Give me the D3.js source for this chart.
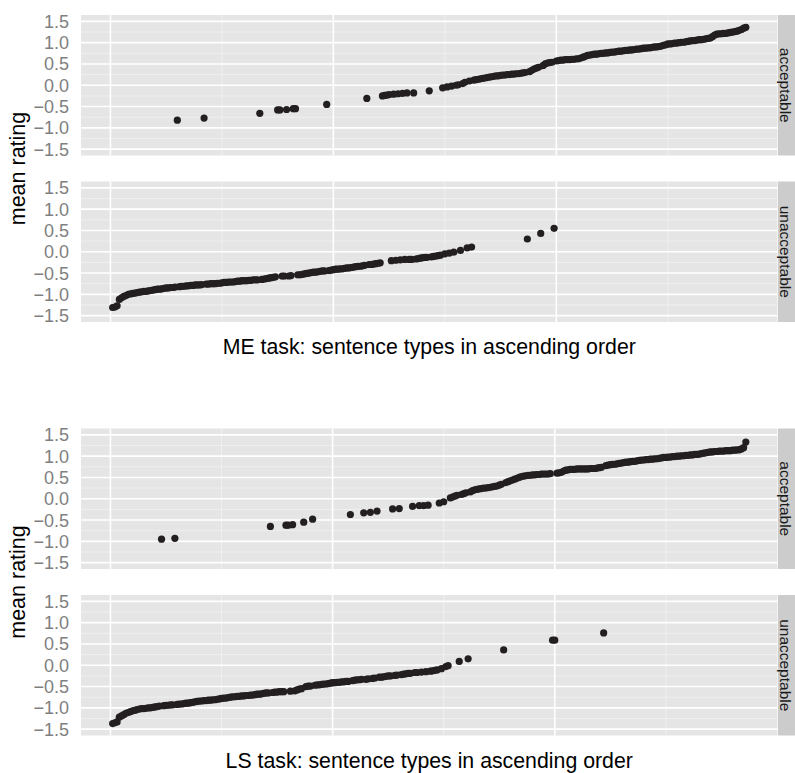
<!DOCTYPE html>
<html>
<head>
<meta charset="utf-8">
<script src="https://cdn.jsdelivr.net/npm/d3@7"></script>
<style>
  body { margin: 0; background: #fff; }
  svg { display: block; }
  text { font-family: "Liberation Sans", Arial, Helvetica, sans-serif; }
</style>
</head>
<body>
<svg id="chart"></svg>
<script>
// mean ratings of all sentence types, sorted ascending (rank 1 = lowest)
var meRatings = [
  -1.31, -1.30, -1.27, -1.12, -1.08, -1.05, -1.03, -1.00, -0.99, -0.98,
  -0.97, -0.96, -0.95, -0.94, -0.93, -0.93, -0.92, -0.91, -0.90, -0.89,
  -0.88, -0.88, -0.87, -0.86, -0.85, -0.85, -0.84, -0.84, -0.83, -0.82,
  -0.82, -0.81, -0.81, -0.80, -0.80, -0.79, -0.79, -0.78, -0.78, -0.78,
  -0.77, -0.77, -0.76, -0.76, -0.75, -0.75, -0.75, -0.74, -0.74, -0.73,
  -0.72, -0.72, -0.71, -0.71, -0.71, -0.70, -0.69, -0.69, -0.68, -0.68,
  -0.68, -0.67, -0.67, -0.66, -0.66, -0.66, -0.66, -0.65, -0.64, -0.63,
  -0.62, -0.61, -0.60, -0.59, -0.58, -0.58, -0.57, -0.57, -0.57, -0.57,
  -0.56, -0.55, -0.55, -0.54, -0.54, -0.53, -0.52, -0.51, -0.50, -0.49,
  -0.48, -0.48, -0.47, -0.46, -0.45, -0.45, -0.45, -0.44, -0.43, -0.42,
  -0.41, -0.41, -0.40, -0.40, -0.39, -0.38, -0.38, -0.37, -0.36, -0.35,
  -0.34, -0.34, -0.33, -0.32, -0.31, -0.30, -0.30, -0.29, -0.28, -0.27,
  -0.26, -0.25, -0.24, -0.23, -0.22, -0.21, -0.21, -0.20, -0.20, -0.19,
  -0.19, -0.18, -0.18, -0.18, -0.18, -0.18, -0.17, -0.16, -0.15, -0.14,
  -0.13, -0.13, -0.13, -0.12, -0.11, -0.10, -0.09, -0.08, -0.06, -0.05,
  -0.04, -0.03, -0.02, -0.01, 0.00, 0.01, 0.03, 0.04, 0.07, 0.09,
  0.10, 0.11, 0.12, 0.13, 0.14, 0.15, 0.16, 0.17, 0.18, 0.19,
  0.20, 0.21, 0.22, 0.22, 0.23, 0.24, 0.24, 0.25, 0.25, 0.26,
  0.26, 0.27, 0.27, 0.28, 0.29, 0.30, 0.30, 0.32, 0.35, 0.38,
  0.40, 0.42, 0.43, 0.46, 0.50, 0.52, 0.53, 0.54, 0.55, 0.57,
  0.58, 0.59, 0.59, 0.60, 0.60, 0.60, 0.61, 0.61, 0.62, 0.62,
  0.64, 0.66, 0.68, 0.70, 0.71, 0.72, 0.73, 0.73, 0.74, 0.75,
  0.75, 0.76, 0.76, 0.77, 0.78, 0.78, 0.79, 0.80, 0.80, 0.81,
  0.82, 0.82, 0.83, 0.83, 0.84, 0.85, 0.85, 0.86, 0.87, 0.87,
  0.88, 0.88, 0.89, 0.90, 0.90, 0.91, 0.92, 0.94, 0.95, 0.97,
  0.97, 0.98, 0.99, 0.99, 1.00, 1.01, 1.01, 1.02, 1.03, 1.04,
  1.05, 1.05, 1.06, 1.07, 1.07, 1.08, 1.09, 1.10, 1.11, 1.14,
  1.18, 1.20, 1.21, 1.21, 1.22, 1.22, 1.23, 1.24, 1.25, 1.26,
  1.27, 1.29, 1.31, 1.34, 1.36
];
// a = acceptable, u = unacceptable, one letter per rank
var meLabels =
  'uuuuuuuuuu uuuuuuuuuu uuuuuuuuua uuuuuuuuuu uauuuuuuuu ' +
  'uuuuuuuuuu uuuuuuauuu uuuuaauuau uaauuuuuuu uuuuuuauuu ' +
  'uuuuuuuuuu uuuuauuuuu uaaaauauau auauuauuuu uuauuuuuau ' +
  'auauaauaau auaaaaaaaa aaaaaaaaaa aaaaaauaaa aauaaaaaua ' +
  'aaaaaaaaaa aaaaaaaaaa aaaaaaaaaa aaaaaaaaaa aaaaaaaaaa ' +
  'aaaaaaaaaa aaaaaaaaaa aaaaaaaaaa aaaaa';

var lsRatings = [
  -1.37, -1.35, -1.33, -1.22, -1.19, -1.16, -1.13, -1.11, -1.09, -1.07,
  -1.06, -1.04, -1.03, -1.02, -1.02, -1.01, -1.00, -1.00, -0.99, -0.98,
  -0.97, -0.96, -0.95, -0.95, -0.94, -0.94, -0.93, -0.93, -0.93, -0.92,
  -0.91, -0.91, -0.90, -0.89, -0.89, -0.88, -0.87, -0.86, -0.85, -0.84,
  -0.84, -0.83, -0.83, -0.82, -0.82, -0.81, -0.81, -0.80, -0.79, -0.78,
  -0.77, -0.77, -0.76, -0.75, -0.74, -0.74, -0.73, -0.73, -0.72, -0.72,
  -0.71, -0.71, -0.70, -0.70, -0.69, -0.68, -0.68, -0.67, -0.66, -0.65,
  -0.65, -0.65, -0.64, -0.63, -0.63, -0.62, -0.62, -0.62, -0.62, -0.62,
  -0.61, -0.61, -0.60, -0.58, -0.56, -0.55, -0.55, -0.50, -0.49, -0.49,
  -0.48, -0.47, -0.46, -0.46, -0.45, -0.44, -0.44, -0.43, -0.42, -0.41,
  -0.41, -0.40, -0.40, -0.39, -0.39, -0.38, -0.38, -0.37, -0.36, -0.35,
  -0.34, -0.34, -0.33, -0.33, -0.33, -0.32, -0.32, -0.31, -0.30, -0.29,
  -0.28, -0.28, -0.27, -0.26, -0.25, -0.25, -0.24, -0.24, -0.23, -0.23,
  -0.22, -0.21, -0.20, -0.19, -0.19, -0.18, -0.17, -0.17, -0.16, -0.16,
  -0.16, -0.15, -0.15, -0.14, -0.13, -0.12, -0.11, -0.10, -0.08, -0.07,
  -0.03, -0.01, 0.02, 0.04, 0.06, 0.08, 0.09, 0.10, 0.12, 0.14,
  0.15, 0.16, 0.19, 0.21, 0.22, 0.23, 0.24, 0.25, 0.25, 0.26,
  0.27, 0.28, 0.29, 0.30, 0.32, 0.34, 0.36, 0.38, 0.40, 0.42,
  0.44, 0.46, 0.48, 0.50, 0.52, 0.53, 0.54, 0.55, 0.55, 0.56,
  0.56, 0.57, 0.57, 0.58, 0.58, 0.58, 0.58, 0.59, 0.59, 0.59,
  0.60, 0.61, 0.62, 0.65, 0.67, 0.68, 0.69, 0.69, 0.69, 0.70,
  0.70, 0.70, 0.70, 0.70, 0.70, 0.71, 0.71, 0.71, 0.72, 0.73,
  0.74, 0.76, 0.78, 0.79, 0.80, 0.81, 0.81, 0.82, 0.83, 0.84,
  0.85, 0.86, 0.86, 0.87, 0.88, 0.88, 0.89, 0.90, 0.91, 0.91,
  0.92, 0.92, 0.93, 0.93, 0.94, 0.94, 0.95, 0.96, 0.97, 0.97,
  0.98, 0.98, 0.99, 0.99, 1.00, 1.00, 1.01, 1.01, 1.02, 1.02,
  1.03, 1.03, 1.04, 1.04, 1.05, 1.06, 1.07, 1.08, 1.09, 1.10,
  1.10, 1.11, 1.11, 1.12, 1.12, 1.12, 1.13, 1.13, 1.13, 1.14,
  1.14, 1.15, 1.15, 1.17, 1.20, 1.33
];
var lsLabels =
  'uuuuuuuuuu uuuuuuuuuu uuauuuuuau uuuuuuuuuu uuuuuuuuuu ' +
  'uuuuuuuuuu uuuuuuuuuu uauuuuuuaa uauuuuauuu auuuuuuuuu ' +
  'uuuuuuuauu uuuauuauua uuuuuuauua uuuuuauuau auauuuuaua ' +
  'uuaaaauaaa uaaaaaaaaa aaaaaauaaa aaaaaaaaaa aaaaaaaauu ' +
  'aaaaaaaaaa aaaaaaaaaa auaaaaaaaa aaaaaaaaaa aaaaaaaaaa ' +
  'aaaaaaaaaa aaaaaaaaaa aaaaaaaaaa aaaaaa';

var facets = ['acceptable', 'unacceptable'];
var facetCodes = ['a', 'u'];
var titles = ['ME task: sentence types in ascending order', 'LS task: sentence types in ascending order'];
var yTicks = [-1.5, -1, -0.5, 0, 0.5, 1, 1.5];
var yMinor = [-1.25, -0.75, -0.25, 0.25, 0.75, 1.25];
var xMajor = [0, 100, 200];
var xMinor = [50, 150, 250];

var width = 795, height = 773;
var panelLeft = 81, panelRight = 777.5;
var panelTops = [15, 181.5];
var panelH = 140.5;
var figTops = [0, 413.5];

var svg = d3.select('#chart')
  .attr('width', width)
  .attr('height', height);

svg.append('rect').attr('width', width).attr('height', height).attr('fill', '#fff');

var fmt = function(v) {
  return d3.format('.1f')(v).replace('-', '\u2212');
};

function drawFigure(ratings, labelStr, title, top) {
  var labels = labelStr.replace(/ /g, '');
  var points = ratings.map(function(v, i) {
    return {rank: i + 1, value: v, code: labels[i]};
  });
  var n = ratings.length;
  var pad = 0.05 * (n - 1);
  var x = d3.scaleLinear()
    .domain([1 - pad, n + pad])
    .range([panelLeft, panelRight]);

  facets.forEach(function(facet, fi) {
    var y0 = top + panelTops[fi];
    var y = d3.scaleLinear()
      .domain([-1.65, 1.65])
      .range([y0 + panelH, y0]);
    var g = svg.append('g');

    g.append('rect')
      .attr('x', panelLeft).attr('y', y0)
      .attr('width', panelRight - panelLeft).attr('height', panelH)
      .attr('fill', '#e5e5e5');

    g.selectAll('.ymin').data(yMinor).enter().append('line')
      .attr('x1', panelLeft).attr('x2', panelRight)
      .attr('y1', function(d) { return y(d); }).attr('y2', function(d) { return y(d); })
      .attr('stroke', '#f2f2f2').attr('stroke-width', 0.8);
    g.selectAll('.xmin').data(xMinor).enter().append('line')
      .attr('y1', y0).attr('y2', y0 + panelH)
      .attr('x1', function(d) { return x(d); }).attr('x2', function(d) { return x(d); })
      .attr('stroke', '#f2f2f2').attr('stroke-width', 0.8);
    g.selectAll('.ymaj').data(yTicks).enter().append('line')
      .attr('x1', panelLeft).attr('x2', panelRight)
      .attr('y1', function(d) { return y(d); }).attr('y2', function(d) { return y(d); })
      .attr('stroke', '#fff').attr('stroke-width', 1.6);
    g.selectAll('.xmaj').data(xMajor).enter().append('line')
      .attr('y1', y0).attr('y2', y0 + panelH)
      .attr('x1', function(d) { return x(d); }).attr('x2', function(d) { return x(d); })
      .attr('stroke', '#fff').attr('stroke-width', 1.6);

    g.selectAll('circle')
      .data(points.filter(function(p) { return p.code === facetCodes[fi]; }))
      .enter().append('circle')
      .attr('cx', function(d) { return x(d.rank); })
      .attr('cy', function(d) { return y(d.value); })
      .attr('r', 3.6)
      .attr('fill', '#231f20');

    g.selectAll('.ylab').data(yTicks).enter().append('text')
      .attr('x', 69)
      .attr('y', function(d) { return y(d); })
      .attr('dy', '0.36em')
      .attr('text-anchor', 'end')
      .attr('fill', '#7f7f7f')
      .style('font-size', '18px')
      .text(fmt);

    // strip on the right
    g.append('rect')
      .attr('x', panelRight + 0.5).attr('y', y0)
      .attr('width', 24).attr('height', panelH)
      .attr('fill', '#cccccc');
    g.append('text')
      .attr('transform', 'translate(780,' + (y0 + panelH / 2) + ') rotate(90)')
      .attr('text-anchor', 'middle')
      .attr('fill', '#1a1a1a')
      .style('font-size', '15.5px')
      .text(facet);
  });

  svg.append('text')
    .attr('transform', 'translate(25,' + (top + (panelTops[0] + panelTops[1] + panelH) / 2) + ') rotate(-90)')
    .attr('text-anchor', 'middle')
    .attr('fill', '#000')
    .style('font-size', '21.5px')
    .text('mean rating');

  svg.append('text')
    .attr('x', (panelLeft + panelRight) / 2)
    .attr('y', top + 354)
    .attr('text-anchor', 'middle')
    .attr('fill', '#000')
    .style('font-size', '21.3px')
    .text(title);
}

drawFigure(meRatings, meLabels, titles[0], figTops[0]);
drawFigure(lsRatings, lsLabels, titles[1], figTops[1]);
</script>
</body>
</html>
